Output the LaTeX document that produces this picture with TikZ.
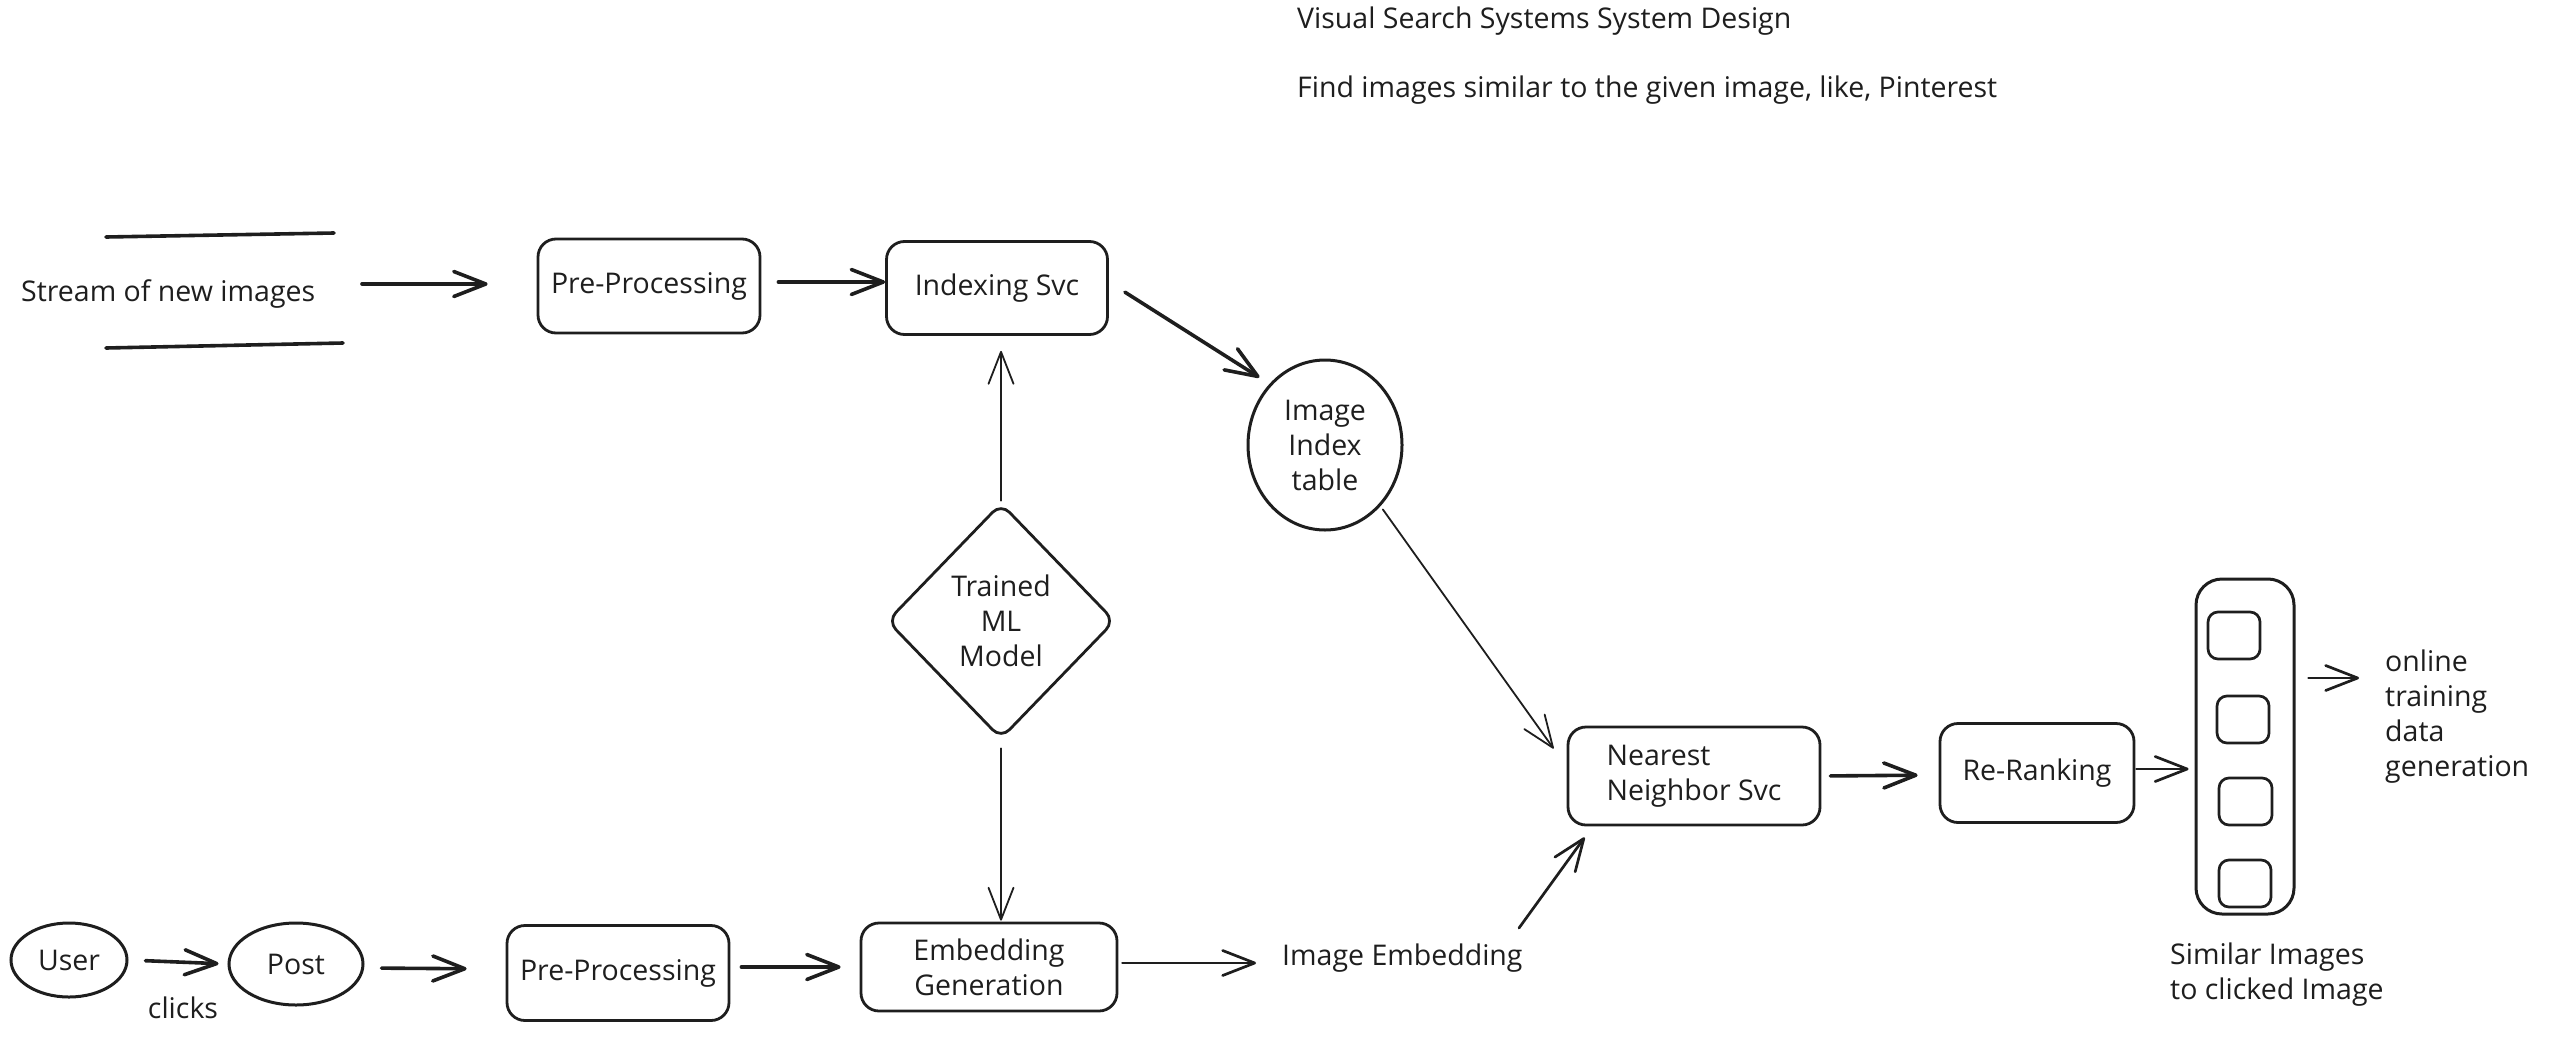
\documentclass[tikz,border=0pt]{standalone}
\usepackage{fontspec}
\setmainfont{Open Sans}
\usetikzlibrary{arrows.meta,shapes.geometric}
\definecolor{ink}{RGB}{30,30,30}
\begin{document}
\begin{tikzpicture}[x=1pt,y=-1pt,
  every node/.style={font=\fontsize{28.5}{35}\selectfont, text=ink},
  box/.style={draw=ink, line width=2.8pt, rounded corners=18pt, inner sep=0pt},
  oval/.style={ellipse, draw=ink, line width=3pt, inner sep=0pt},
  lbl/.style={inner sep=0pt},
  arr/.style={draw=ink, line cap=round, line width=3.6pt, -{Straight Barb[length=32pt,width=25pt,round]}},
  arrmid/.style={arr, line width=2.7pt},
  arrthin/.style={arr, line width=1.8pt},
  stroke/.style={draw=ink, line width=3.6pt, line cap=round},
  slot/.style={draw=ink, line width=2.7pt, rounded corners=10pt, inner sep=0pt}
]
\useasboundingbox (0,0) rectangle (2550,1060);

% titles
\node[lbl, anchor=west] (title) at (1297,21) {Visual Search Systems System Design};
\node[lbl, anchor=west] (sub) at (1297,90) {Find images similar to the given image, like, Pinterest};

% stream of new images
\node[lbl, anchor=west] (stream) at (21,294) {Stream of new images};
\coordinate (st1) at (106,237);
\coordinate (st2) at (334,233);
\coordinate (sb1) at (106,348);
\coordinate (sb2) at (343,343);
\draw[stroke] (st1) -- (st2);
\draw[stroke] (sb1) -- (sb2);

% top row
\node[box, minimum width=222pt, minimum height=94pt] (pre1) at (649,286) {Pre-Processing};
\node[box, minimum width=221pt, minimum height=93pt] (idx) at (997,288) {Indexing Svc};
\node[oval, minimum width=154pt, minimum height=170pt, align=center] (tbl) at (1325,445) {Image\\Index\\table};
\node[diamond, draw=ink, line width=2.8pt, rounded corners=12pt, minimum width=228pt, minimum height=236pt, inner sep=0pt, align=center] (ml) at (1001,621) {Trained\\ML\\Model};

% right part
\node[box, minimum width=252pt, minimum height=98pt, align=left] (nn) at (1694,776) {Nearest\\Neighbor Svc};
\node[box, minimum width=194pt, minimum height=99pt] (rr) at (2037,773) {Re-Ranking};
\node[draw=ink, line width=3pt, rounded corners=26pt, minimum width=98pt, minimum height=335pt, inner sep=0pt] (list) at (2245,746.5) {};
\node[slot, minimum width=52pt, minimum height=47pt] (s1) at (2234,635.5) {};
\node[slot, minimum width=52pt, minimum height=47pt] (s2) at (2243,719.5) {};
\node[slot, minimum width=53pt, minimum height=47pt] (s3) at (2245.5,801.5) {};
\node[slot, minimum width=52pt, minimum height=47pt] (s4) at (2245,883.5) {};
\node[lbl, anchor=west, align=left] (online) at (2385,717) {online\\training\\data\\generation};
\node[lbl, anchor=west, align=left] (sim) at (2170,975) {Similar Images\\to clicked Image};

% bottom row
\node[oval, minimum width=116pt, minimum height=74pt] (user) at (69,960) {User};
\node[oval, minimum width=134pt, minimum height=82pt] (post) at (296,964) {Post};
\node[lbl] (clicks) at (183,1008) {clicks};
\node[box, minimum width=222pt, minimum height=95pt] (pre2) at (618,973) {Pre-Processing};
\node[box, minimum width=256pt, minimum height=88pt, align=center] (emb) at (989,967) {Embedding\\Generation};
\node[lbl, anchor=west] (iemb) at (1282,958) {Image Embedding};

% free ends
\coordinate (streamout) at (362,284);
\coordinate (iembout) at (1519,928);

% connectors
\draw[arr, shorten >=49pt] (streamout) -- ([yshift=2pt]pre1.west);
\draw[arr, shorten <=17pt] ([yshift=4pt]pre1.east) -- ([yshift=6pt]idx.west);
\draw[arr, shorten <=19pt, shorten >=12pt] ([yshift=6pt]idx.east) -- (tbl.north west);
\draw[arrthin, shorten <=4pt] (tbl.south east) -- ([xshift=-13pt,yshift=-23pt]nn.north west);
\draw[arrthin, shorten <=1pt, shorten >=15pt] (ml.north) -- (ml.north |- idx.south);
\draw[arrthin, shorten <=8pt, shorten >=1pt] (ml.south) -- (ml.south |- emb.north);
\draw[arr, shorten <=17pt, shorten >=9pt] (user.east) -- (post.west);
\draw[arr, shorten <=17pt, shorten >=39pt] ([yshift=-4pt]post.east) -- ([yshift=4pt]pre2.west);
\draw[arr, shorten <=11pt, shorten >=19pt] ([yshift=6pt]pre2.east) -- (emb.west);
\draw[arrmid, shorten <=4pt, shorten >=26pt] ([yshift=4pt]emb.east) -- ([yshift=-5pt]iemb.west);
\draw[arrmid] (iembout) -- ([xshift=18pt,yshift=-11pt]nn.south west);
\draw[arr, shorten <=9pt, shorten >=21pt] (nn.east) -- ([yshift=-2pt]rr.west);
\draw[arrmid, shorten <=1pt, shorten >=6pt] ([yshift=4pt]rr.east) -- ([yshift=-22.5pt]list.west);
\draw[arrmid, shorten <=13pt, shorten >=26pt] ([yshift=68.5pt]list.east) -- ([yshift=39pt]online.west);
\end{tikzpicture}
\end{document}
